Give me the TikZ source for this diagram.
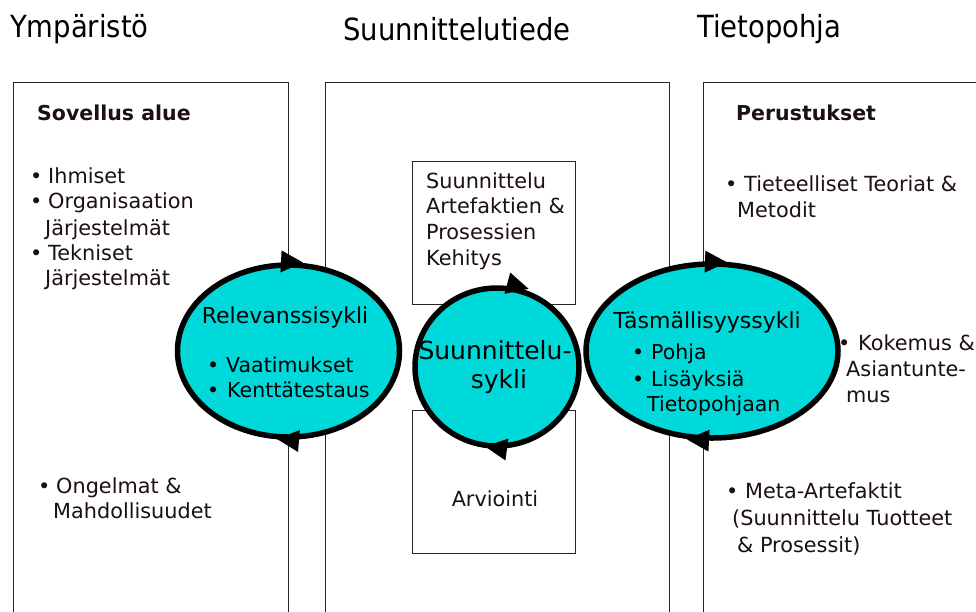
\documentclass[tikz,border=0pt]{standalone}
\usepackage{fontspec}
\setmainfont{DejaVu Sans}
\newfontfamily\condfont{DejaVu Sans Condensed}
\definecolor{cyanfill}{RGB}{0,217,217}
\definecolor{textc}{RGB}{28,16,16}
\begin{document}
\begin{tikzpicture}[x=1pt,y=-1pt,
  frame/.style={draw=black!85, line width=1pt, anchor=north west, inner sep=0pt, minimum height=620pt},
  innerbox/.style={draw=black!85, line width=0.9pt, anchor=north west, inner sep=0pt, minimum width=163pt, minimum height=143pt},
  cycshape/.style={draw=black, fill=cyanfill, line width=5.5pt},
  txt/.style={anchor=base west, inner sep=0pt, text=textc, font=\fontsize{20.8}{25}\selectfont},
  boldtxt/.style={txt, font=\fontsize{20.5}{25}\selectfont\bfseries},
  title/.style={anchor=base west, inner sep=0pt, text=black, font=\condfont\fontsize{30.5}{36}\selectfont},
  ctxt/.style={anchor=base west, inner sep=0pt, text=black, font=\fontsize{20.5}{25}\selectfont},
  ctitle/.style={anchor=base, inner sep=0pt, text=black, font=\fontsize{22}{26}\selectfont},
  mtitle/.style={anchor=base, inner sep=0pt, text=black, font=\fontsize{25}{29}\selectfont},
  headtri/.pic={\fill[black] (11,0) -- (-11,-11) -- (-11,11) -- cycle;}
]
\useasboundingbox (0,0) rectangle (976,611);
\clip (0,0) rectangle (976,611);
\fill[white] (0,0) rectangle (976,611);

% titles
\node[title] (t1) at (10,37) {Ympäristö};
\node[title] (t2) at (343,40) {Suunnittelutiede};
\node[title] (t3) at (697,37) {Tietopohja};

% frames
\node[frame, minimum width=275pt] (envbox) at (13,82) {};
\node[frame, minimum width=344pt] (dsbox) at (325,82) {};
\node[frame, minimum width=300pt] (kbbox) at (703,82) {};
\node[innerbox] (buildbox) at (412,161) {};
\node[innerbox] (evalbox) at (412,410) {};

% left column text
\node[boldtxt] (sa) at (37,120) {Sovellus alue};
\node[txt] (b1) at (30,183) {•};
\node[txt] (l1) at (48,183) {Ihmiset};
\node[txt] (b2) at (30,208) {•};
\node[txt] (l2) at (48,208) {Organisaation};
\node[txt] (l3) at (45,235) {Järjestelmät};
\node[txt] (b3) at (30,260) {•};
\node[txt] (l4) at (48,260) {Tekniset};
\node[txt] (l5) at (45,285) {Järjestelmät};
\node[txt] (b4) at (38,493) {•};
\node[txt] (l6) at (56,493) {Ongelmat \&};
\node[txt] (l7) at (53,518) {Mahdollisuudet};

% middle boxes text
\node[txt] (m1) at (426,188) {Suunnittelu};
\node[txt] (m2) at (426,213) {Artefaktien \&};
\node[txt] (m3) at (426,239) {Prosessien};
\node[txt] (m4) at (426,265) {Kehitys};
\node[txt, anchor=base] (m5) at (495,506) {Arviointi};

% right column text
\node[boldtxt] (pe) at (736,120) {Perustukset};
\node[txt] (rb1) at (725,191) {•};
\node[txt] (r1) at (744,191) {Tieteelliset Teoriat \&};
\node[txt] (r2) at (737,217) {Metodit};
\node[txt] (rb2) at (838,350) {•};
\node[txt] (r3) at (858,350) {Kokemus \&};
\node[txt] (r4) at (846,376) {Asiantunte-};
\node[txt] (r5) at (846,402) {mus};
\node[txt] (rb3) at (726,498) {•};
\node[txt] (r6) at (745,498) {Meta-Artefaktit};
\node[txt] (r7) at (732,525) {(Suunnittelu Tuotteet};
\node[txt] (r8) at (737,552) {\& Prosessit)};

% cycles
\coordinate (lc) at (288.5,351);
\coordinate (mc) at (497,367);
\coordinate (rc) at (712,351);
\draw[cycshape] (lc) ellipse [x radius=111, y radius=86];
\draw[cycshape] (mc) ellipse [x radius=82, y radius=79];
\draw[cycshape] (rc) ellipse [x radius=126, y radius=87];

% arrowheads
\pic[rotate=-3] at (292,262) {headtri};
\pic[rotate=175] at (288,440) {headtri};
\pic[rotate=-15] at (518,286) {headtri};
\pic[rotate=172] at (496,448) {headtri};
\pic[rotate=-2] at (716,262) {headtri};
\pic[rotate=177] at (698,440) {headtri};

% cycle texts
\node[ctitle] (rel) at (285,323) {Relevanssisykli};
\node[ctxt] (rv0) at (207,372) {•};
\node[ctxt] (rv1) at (226,372) {Vaatimukset};
\node[ctxt] (rv2) at (207,397) {•};
\node[ctxt] (rv3) at (227,397) {Kenttätestaus};

\node[mtitle] (dc1) at (495,359) {Suunnittelu-};
\node[mtitle] (dc2) at (499,388) {sykli};

\node[ctitle] (rig) at (707,328) {Täsmällisyyssykli};
\node[ctxt] (rg0) at (632,359) {•};
\node[ctxt] (rg1) at (651,359) {Pohja};
\node[ctxt] (rg2) at (632,386) {•};
\node[ctxt] (rg3) at (651,386) {Lisäyksiä};
\node[ctxt] (rg4) at (647,411) {Tietopohjaan};
\end{tikzpicture}
\end{document}
